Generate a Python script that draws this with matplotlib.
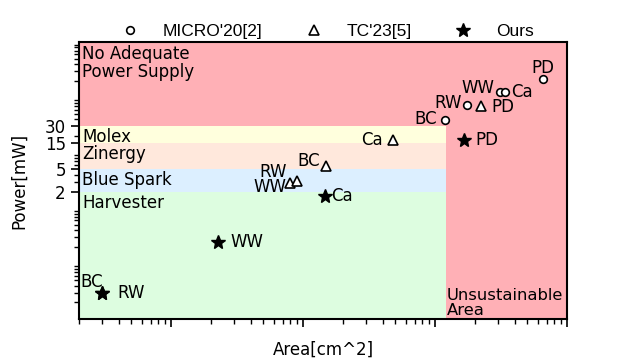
import matplotlib
matplotlib.use("Agg")
import matplotlib.pyplot as plt
from matplotlib.lines import Line2D

# ---- data ----
micro_names = ["BC", "RW", "WW", "Ca", "PD"]
micro_area = [11.9, 17.5, 31.0, 33.9, 65.8]
micro_power = [38.5, 71.7, 123.0, 123.0, 211.0]

tc_names = ["WW", "RW", "BC", "Ca", "PD"]
tc_area = [0.80, 0.90, 1.49, 4.8, 22.3]
tc_power = [2.8, 3.05, 5.7, 16.7, 68.8]

ours_names = ["BC", "RW", "WW", "Ca", "PD"]
ours_area = [0.03, 0.03, 0.227, 1.47, 16.6]
ours_power = [0.03, 0.03, 0.25, 1.63, 16.7]

band_names = ["Harvester", "Blue Spark", "Zinergy", "Molex"]
band_bounds = [0.01, 2, 5, 15, 30]
band_colors = ["#ddfde0", "#dcefff", "#ffe8dc", "#ffffdd"]
pink = "#ffb0b6"
area_cut = 12.0

ytick_vals = [30, 15, 5, 2]
ytick_labels = ["30", "15", "5", "2"]

xlim = (0.02, 100)
ylim = (0.01, 1000)

# ---- plot ----
fig = plt.figure(figsize=(6.3, 3.6), dpi=100)
ax = fig.add_axes([79/630, 1-319/360, (567-79)/630, (319-42)/360])
ax.set_xscale("log")
ax.set_yscale("log")
ax.set_xlim(*xlim)
ax.set_ylim(*ylim)
ax.set_facecolor(pink)

for i, name in enumerate(band_names):
    ax.fill_between([xlim[0], area_cut], band_bounds[i], band_bounds[i+1],
                    color=band_colors[i], linewidth=0, zorder=0)
    ax.text(0.0212, band_bounds[i+1] * 0.92, name, fontsize=12, va="top", ha="left",
            zorder=1)

ax.text(0.0212, 900, "No Adequate\nPower Supply", fontsize=12, va="top", ha="left",
        linespacing=1.0)
ax.text(area_cut * 1.02, 0.0105, "Unsustainable\nArea", fontsize=11.8, va="bottom",
        ha="left", linespacing=1.0)

ax.plot(micro_area, micro_power, "o", ms=5.5, mfc="white", mec="black", mew=1.2,
        ls="none", zorder=3)
ax.plot(tc_area, tc_power, "^", ms=7, mfc="white", mec="black", mew=1.2,
        ls="none", zorder=3)
ax.plot(ours_area, ours_power, "*", ms=10, color="black", ls="none", zorder=3)

PX = 0.72
def lab(name, x, y, dx, dy, ha):
    ax.annotate(name, (x, y), xytext=(dx*PX, dy*PX), textcoords="offset points",
                ha=ha, va="center", fontsize=12, zorder=4)

micro_off = {"BC": (-8, 1, "right"), "RW": (-5, 2, "right"), "WW": (-5, 4, "right"),
             "Ca": (6, 0, "left"), "PD": (0, 11, "center")}
tc_off = {"PD": (10, -1, "left"), "Ca": (-10, 0, "right"), "BC": (-6, 5, "right"),
          "RW": (-10, 9, "right"), "WW": (-4, -4, "right")}
ours_off = {"PD": (11, 0, "left"), "Ca": (6, 0, "left"), "WW": (12, 0, "left"),
            "RW": (15, 0, "left"), "BC": (1, 11, "right")}
for n, x, y in zip(micro_names, micro_area, micro_power):
    dx, dy, ha = micro_off[n]; lab(n, x, y, dx, dy, ha)
for n, x, y in zip(tc_names, tc_area, tc_power):
    dx, dy, ha = tc_off[n]; lab(n, x, y, dx, dy, ha)
for n, x, y in zip(ours_names, ours_area, ours_power):
    dx, dy, ha = ours_off[n]; lab(n, x, y, dx, dy, ha)

ax.set_yticks(ytick_vals)
ax.set_yticklabels(ytick_labels, fontsize=12)
ax.xaxis.set_major_formatter(plt.NullFormatter())
ax.xaxis.set_minor_formatter(plt.NullFormatter())
ax.yaxis.set_minor_formatter(plt.NullFormatter())
ax.tick_params(which="major", length=6, width=1.2)
ax.tick_params(which="minor", length=3.5, width=1.0)
for s in ax.spines.values():
    s.set_linewidth(1.5)

ax.set_xlabel("Area[cm^2]", fontsize=12, labelpad=6)
ax.set_ylabel("Power[mW]", fontsize=12, labelpad=12)

handles = [
    Line2D([], [], marker="o", ls="none", ms=5.5, mfc="white", mec="black", mew=1.2),
    Line2D([], [], marker="^", ls="none", ms=7, mfc="white", mec="black", mew=1.2),
    Line2D([], [], marker="*", ls="none", ms=10, color="black"),
]
ax.legend(handles, ["MICRO'20[2]", "TC'23[5]", "Ours"], loc="lower center",
          bbox_to_anchor=(0.5, 0.978), ncol=3, frameon=False,
          prop={"family": "Liberation Sans", "size": 12.5},
          handlelength=2, handletextpad=0.9, columnspacing=1.93,
          borderaxespad=0.1)

fig.savefig("out.png", dpi=100)
